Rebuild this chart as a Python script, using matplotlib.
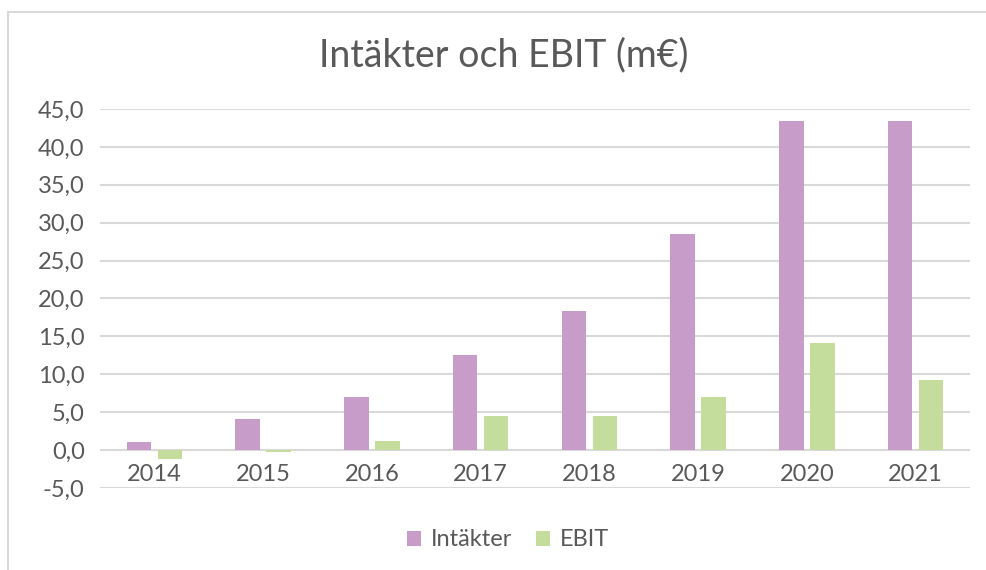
import matplotlib.pyplot as plt
import numpy as np
from matplotlib.ticker import FuncFormatter
from matplotlib.patches import Rectangle

years = ['2014', '2015', '2016', '2017', '2018', '2019', '2020', '2021']
intakter = [1.0, 4.1, 7.0, 12.5, 18.4, 28.5, 43.4, 43.4]
ebit = [-1.2, -0.2, 1.2, 4.5, 4.5, 7.0, 14.1, 9.2]

purple = '#C89CC8'
green = '#C5DD9C'
text_col = '#595959'
grid_col = '#D9D9D9'

plt.rcParams['font.family'] = ['Lato', 'DejaVu Sans']

fig = plt.figure(figsize=(9.87, 5.70), dpi=100)
ax = fig.add_axes([0.1013, 0.1439, 0.8815, 0.6649])

x = np.arange(len(years))
w = 0.225
off = 0.143
ax.bar(x - off, intakter, w, color=purple, label='Intäkter', zorder=3)
ax.bar(x + off, ebit, w, color=green, label='EBIT', zorder=3)

ax.set_xlim(-0.5, len(years) - 0.5)
ax.set_ylim(-5, 45)
ax.set_yticks(np.arange(-5, 46, 5))
ax.yaxis.set_major_formatter(FuncFormatter(lambda v, p: f'{v:.1f}'.replace('.', ',')))
ax.grid(axis='y', color=grid_col, linewidth=1.5, zorder=0)
ax.set_axisbelow(True)

for s in ax.spines.values():
    s.set_visible(False)
ax.spines['bottom'].set_position(('data', 0))

ax.set_xticks(x)
ax.set_xticklabels(years)
ax.tick_params(axis='x', length=0, pad=10, labelsize=17, labelcolor=text_col)
ax.tick_params(axis='y', length=0, pad=11, labelsize=17, labelcolor=text_col)

fig.suptitle('Intäkter och EBIT (m€)', y=1 - 55 / 570, va='center', x=0.51,
             fontsize=27, color=text_col)

ax.legend(loc='center', bbox_to_anchor=(0.469, -0.137), ncol=2, frameon=False,
          fontsize=17, labelcolor=text_col, handlelength=0.6, handleheight=0.6,
          handletextpad=0.4, columnspacing=1.0)

fig.patches.append(Rectangle((8 / 987, -0.1), 1.2, 1 - 12 / 570 + 0.1,
                             transform=fig.transFigure, fill=False,
                             edgecolor=grid_col, linewidth=1.5))

fig.savefig('out.png', dpi=100)
